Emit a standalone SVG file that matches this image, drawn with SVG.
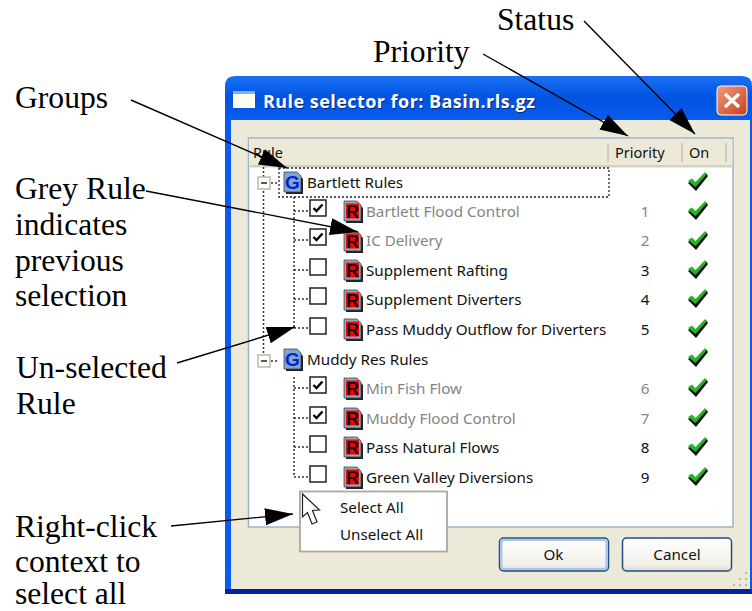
<svg xmlns="http://www.w3.org/2000/svg" width="752" height="611" viewBox="0 0 752 611">
<style>
.note{font:31.600px "Liberation Serif","Times New Roman",serif;fill:#000}
.ui{font:15.200px "Noto Sans","DejaVu Sans",sans-serif;fill:#111}
.hd{font-size:14.500px}
.old{fill:#858580}
.num{text-anchor:middle}
.tree{stroke:#333;stroke-width:1.500;stroke-dasharray:2 2;fill:none}
.box{fill:#fff;stroke:#222;stroke-width:1.500}
.conn{stroke:#000;stroke-width:1.400;fill:none;marker-end:url(#head)}
.sep{stroke:#cfcbb8;stroke-width:2}
.plus{fill:#fff;stroke:#b5b5a5;stroke-width:1.400}
.btn{fill:url(#btn);stroke:#1f4e80;stroke-width:1.500}
.title{font:bold 18px "Open Sans","Noto Sans",sans-serif}
</style>
<defs>
<linearGradient id="bar" gradientUnits="userSpaceOnUse" x1="0" y1="76" x2="0" y2="120"><stop offset="0" stop-color="#1a70f5"/><stop offset=".5" stop-color="#0053e1"/><stop offset="1" stop-color="#0a5cec"/></linearGradient>
<linearGradient id="btn" x1="0" y1="0" x2="0" y2="1"><stop offset="0" stop-color="#fff"/><stop offset=".85" stop-color="#f1f0e8"/><stop offset="1" stop-color="#d8d5c8"/></linearGradient>
<linearGradient id="close" x1="0" y1="0" x2="1" y2="1"><stop offset="0" stop-color="#ee9c80"/><stop offset="1" stop-color="#c8401c"/></linearGradient>
<marker id="head" markerUnits="userSpaceOnUse" markerWidth="30" markerHeight="18" refX="28" refY="8.500" orient="auto"><path d="M0 0L28 8.500L0 17z" fill="#000"/></marker>
<g id="r-icon"><path d="M2 2H14L19 7V22H2z" fill="#222"/><path d="M0 0H13L17 4V20H0z" fill="#8fa6bd" stroke="#333" stroke-width=".7"/><rect x="2" y="2.500" width="13" height="15" fill="#f00"/><text x="8.500" y="16.500" text-anchor="middle" style="font:bold 18px 'Liberation Sans',sans-serif;fill:#111">R</text></g>
<g id="g-icon"><path d="M2 2H14L19 7V22H2z" fill="#222"/><path d="M0 0H13L17 4V20H0z" fill="#7fa4d8" stroke="#333" stroke-width=".7"/><text x="8.500" y="16.500" text-anchor="middle" style="font:bold 19px 'Liberation Sans',sans-serif;fill:#0a20c0">G</text></g>
<g id="check"><path d="M0 11L4 8L8 12L18 1L20 4L8 19z" fill="#111"/><path d="M0 9L4 6.500L7.500 10L17 0L18.500 2.500L7.500 15z" fill="#27b427"/></g>
<path id="tick" d="M3.500 8L6.500 11L12.500 4.500" fill="none" stroke="#000" stroke-width="2.400"/>
</defs>
<rect width="752" height="611" fill="#fff"/>

<g id="window">
<path d="M225 594V86Q225 76 235 76H742Q752 76 752 86V594z" fill="url(#bar)"/>
<rect x="225" y="589" width="527" height="5" fill="#0022a5"/>
<rect x="231" y="120" width="519" height="469" fill="#ece9d8"/>
<rect x="233" y="91" width="22" height="17" fill="#fffff0"/><rect x="233" y="91" width="22" height="3" fill="#7fb0f0"/>
<text class="title" x="264" y="109" textLength="272" fill="#00288a">Rule selector for: Basin.rls.gz</text>
<text class="title" x="263" y="108" textLength="272" fill="#fff">Rule selector for: Basin.rls.gz</text>
<rect x="717" y="86" width="30" height="29" rx="4" fill="url(#close)" stroke="#fff" stroke-width="1"/>
<path d="M725 94L739 107M739 94L725 107" stroke="#fff" stroke-width="3.400"/>
<rect x="248.500" y="138" width="484.500" height="389" fill="#fff" stroke="#9db3c8" stroke-width="1.500"/>
<rect x="249.500" y="139" width="483" height="27" fill="#ece9d8"/>
<rect x="249.500" y="165" width="483" height="2.500" fill="#d5d1bf"/>
<path class="sep" d="M608 143V162M682 143V162M726 143V162"/>
<text class="ui hd" x="253" y="158">Rule</text>
<text class="ui hd" x="615" y="158">Priority</text>
<text class="ui hd" x="689" y="158">On</text>
</g>

<g id="tree-lines">
<path class="tree" d="M263.500 167V355M294 197V328M294 211H308M294 240H308M294 270H308M294 299H308M294 328H308M294 377V477M294 388H308M294 418H308M294 447H308M294 477H308M271 183H279M271 361H279"/>
<rect x="279" y="168" width="330" height="29" fill="none" stroke="#222" stroke-width="1.300" stroke-dasharray="2 2"/>
</g>

<g id="group-bartlett"><rect class="plus" x="258" y="177" width="12" height="12"/><path d="M261 183H267" stroke="#222" stroke-width="1.500"/><use href="#g-icon" x="284" y="172"/><text class="ui" x="307" y="188">Bartlett Rules</text><use href="#check" x="688" y="172"/></g>
<g id="rule-1"><rect class="box" x="310" y="200" width="16" height="16"/><use href="#tick" x="310" y="200"/><use href="#r-icon" x="344" y="201"/><text class="ui old" x="366" y="217">Bartlett Flood Control</text><text class="ui old num" x="645" y="217">1</text><use href="#check" x="688" y="201"/></g>
<g id="rule-2"><rect class="box" x="310" y="229" width="16" height="16"/><use href="#tick" x="310" y="229"/><use href="#r-icon" x="344" y="231"/><text class="ui old" x="366" y="246">IC Delivery</text><text class="ui old num" x="645" y="246">2</text><use href="#check" x="688" y="231"/></g>
<g id="rule-3"><rect class="box" x="310" y="259" width="16" height="16"/><use href="#r-icon" x="344" y="260"/><text class="ui" x="366" y="276">Supplement Rafting</text><text class="ui num" x="645" y="276">3</text><use href="#check" x="688" y="260"/></g>
<g id="rule-4"><rect class="box" x="310" y="288" width="16" height="16"/><use href="#r-icon" x="344" y="290"/><text class="ui" x="366" y="305">Supplement Diverters</text><text class="ui num" x="645" y="305">4</text><use href="#check" x="688" y="289"/></g>
<g id="rule-5"><rect class="box" x="310" y="318" width="16" height="16"/><use href="#r-icon" x="344" y="319"/><text class="ui" x="366" y="335">Pass Muddy Outflow for Diverters</text><text class="ui num" x="645" y="335">5</text><use href="#check" x="688" y="319"/></g>
<g id="group-muddy"><rect class="plus" x="258" y="355" width="12" height="12"/><path d="M261 361H267" stroke="#222" stroke-width="1.500"/><use href="#g-icon" x="284" y="349"/><text class="ui" x="307" y="365">Muddy Res Rules</text><use href="#check" x="688" y="348"/></g>
<g id="rule-6"><rect class="box" x="310" y="377" width="16" height="16"/><use href="#tick" x="310" y="377"/><use href="#r-icon" x="344" y="378"/><text class="ui old" x="366" y="394">Min Fish Flow</text><text class="ui old num" x="645" y="394">6</text><use href="#check" x="688" y="378"/></g>
<g id="rule-7"><rect class="box" x="310" y="407" width="16" height="16"/><use href="#tick" x="310" y="407"/><use href="#r-icon" x="344" y="408"/><text class="ui old" x="366" y="424">Muddy Flood Control</text><text class="ui old num" x="645" y="424">7</text><use href="#check" x="688" y="408"/></g>
<g id="rule-8"><rect class="box" x="310" y="436" width="16" height="16"/><use href="#r-icon" x="344" y="437"/><text class="ui" x="366" y="453">Pass Natural Flows</text><text class="ui num" x="645" y="453">8</text><use href="#check" x="688" y="437"/></g>
<g id="rule-9"><rect class="box" x="310" y="466" width="16" height="16"/><use href="#r-icon" x="344" y="467"/><text class="ui" x="366" y="483">Green Valley Diversions</text><text class="ui num" x="645" y="483">9</text><use href="#check" x="688" y="467"/></g>

<g id="context-menu">
<rect x="300" y="491.500" width="147" height="60" fill="#fff" stroke="#aca899" stroke-width="1.800"/>
<text class="ui" x="340" y="513">Select All</text>
<text class="ui" x="340" y="540">Unselect All</text>
<path d="M302.500 494V517L307.500 512.500L312 524L317 522L312.500 510.500L319.500 510z" fill="#fff" stroke="#222" stroke-width="1.200"/>
</g>

<g id="button-ok"><rect class="btn" x="499.500" y="538" width="109" height="33" rx="4"/><rect x="501.500" y="540" width="105" height="29" rx="3" fill="none" stroke="#a8c4ea" stroke-width="2"/><text class="ui" x="553.500" y="560" text-anchor="middle">Ok</text></g>
<g id="button-cancel"><rect class="btn" x="622.500" y="538" width="109" height="33" rx="4"/><text class="ui" x="677" y="560" text-anchor="middle">Cancel</text></g>
<path id="grip" d="M745 572h2v2h-2zM739 578h2v2h-2zM745 578h2v2h-2zM733 584h2v2h-2zM739 584h2v2h-2zM745 584h2v2h-2z" fill="#bdb9a6"/>

<g id="labels">
<text class="note" x="15" y="108">Groups</text>
<text class="note" x="15" y="199">Grey Rule</text>
<text class="note" x="15" y="235">indicates</text>
<text class="note" x="15" y="271">previous</text>
<text class="note" x="15" y="306">selection</text>
<text class="note" x="16" y="378">Un-selected</text>
<text class="note" x="16" y="414">Rule</text>
<text class="note" x="15" y="537">Right-click</text>
<text class="note" x="15" y="572">context to</text>
<text class="note" x="15" y="604">select all</text>
<text class="note" x="497" y="30">Status</text>
<text class="note" x="373" y="62">Priority</text>
</g>

<g id="connectors">
<path class="conn" d="M131 100L287 168"/>
<path class="conn" d="M146 191L358 232"/>
<path class="conn" d="M483 54L628 136"/>
<path class="conn" d="M584 21L695 134"/>
<path class="conn" d="M177 363L295 327"/>
<path class="conn" d="M171 526L293 514"/>
</g>
</svg>
